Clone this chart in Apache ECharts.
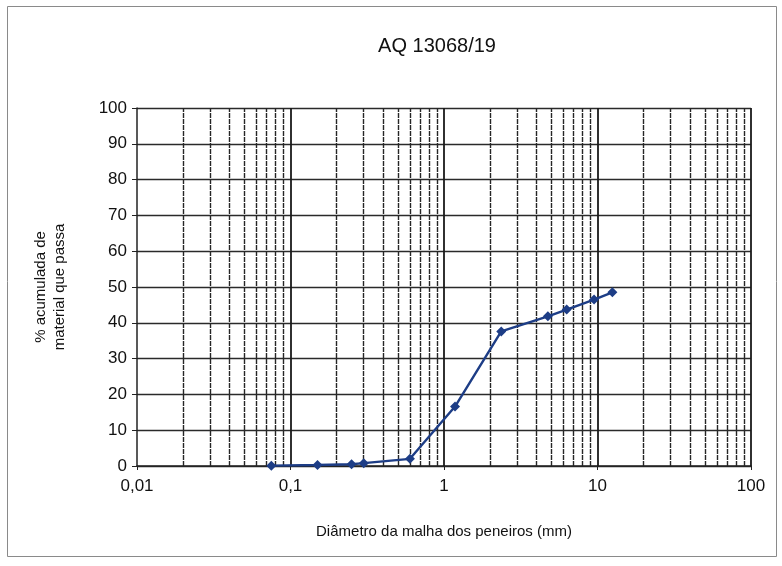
<!DOCTYPE html>
<html>
<head>
<meta charset="utf-8">
<script src="https://cdn.jsdelivr.net/npm/echarts@6/dist/echarts.min.js"></script>
<style>
    html, body { margin: 0; padding: 0; background: #fff; }
    #chart { width: 782px; height: 566px; }
</style>
</head>
<body>
<div id="chart"></div>
<script>
// abertura dos peneiros (mm) e % acumulada que passa
const sieves = [0.075, 0.15, 0.25, 0.3, 0.6, 1.18, 2.36, 4.75, 6.3, 9.5, 12.5]
const passing = [0.1, 0.3, 0.5, 0.8, 2.0, 16.6, 37.6, 41.8, 43.7, 46.5, 48.5]
// linhas de grelha secundárias (2..9 em cada década)
const minorGrid = [
    0.02, 0.03, 0.04, 0.05, 0.06, 0.07, 0.08, 0.09,
    0.2, 0.3, 0.4, 0.5, 0.6, 0.7, 0.8, 0.9,
    2, 3, 4, 5, 6, 7, 8, 9,
    20, 30, 40, 50, 60, 70, 80, 90
]
const majorGrid = [0.1, 1, 10, 100]

const font = 'Arial, "Liberation Sans", sans-serif'

let chart = echarts.init(document.getElementById('chart'))
chart.setOption({
    animation: false,
    textStyle: { fontFamily: font },
    title: {
        text: 'AQ 13068/19',
        left: 432,
        top: 31,
        textAlign: 'center',
        textStyle: { fontSize: 20, fontWeight: 'normal', color: '#111', fontFamily: font }
    },
    graphic: [{
        type: 'rect',
        shape: { x: 7.5, y: 6.5, width: 769, height: 550 },
        style: { fill: 'none', stroke: '#8a8a8a', lineWidth: 1 },
        silent: true
    }],
    grid: { left: 137, right: 31, top: 108, bottom: 100 },
    xAxis: {
        type: 'log',
        logBase: 10,
        min: 0.01,
        max: 100,
        name: 'Diâmetro da malha dos peneiros (mm)',
        nameLocation: 'middle',
        nameGap: 58,
        nameTextStyle: { fontSize: 15, color: '#111', fontFamily: font },
        axisLine: { show: true, onZero: false, lineStyle: { color: '#222', width: 1.5 } },
        axisTick: { show: true, length: 4, lineStyle: { color: '#222' } },
        axisLabel: {
            fontSize: 17, color: '#111', margin: 12, fontFamily: font,
            formatter: v => String(v).replace('.', ',')
        },
        splitLine: { show: false }
    },
    yAxis: {
        type: 'value',
        min: 0,
        max: 100,
        interval: 10,
        name: '% acumulada de\nmaterial que passa',
        nameLocation: 'middle',
        nameGap: 68,
        nameRotate: 90,
        nameTextStyle: { fontSize: 15, color: '#111', fontFamily: font, lineHeight: 19 },
        axisLine: { show: true, lineStyle: { color: '#222', width: 1.5 } },
        axisTick: { show: true, length: 5, lineStyle: { color: '#222' } },
        axisLabel: { fontSize: 17, color: '#111', margin: 10, fontFamily: font },
        splitLine: { show: true, lineStyle: { color: '#2a2a2a', width: 1.4 } }
    },
    series: [
        {
            type: 'line',
            name: 'grelha',
            data: [],
            silent: true,
            markLine: {
                silent: true,
                symbol: 'none',
                label: { show: false },
                animation: false,
                data: minorGrid.map(v => ({
                    xAxis: v,
                    lineStyle: { color: '#262626', width: 1.4, type: [5, 1] }
                })).concat(majorGrid.map(v => ({
                    xAxis: v,
                    lineStyle: { color: '#1a1a1a', width: 1.8, type: 'solid' }
                })))
            }
        },
        {
            type: 'line',
            name: 'AQ 13068/19',
            data: sieves.map((s, i) => [s, passing[i]]),
            symbol: 'diamond',
            symbolSize: 10,
            lineStyle: { color: '#1d3d86', width: 2.4 },
            itemStyle: { color: '#1d3d86' },
            z: 5
        }
    ]
})
</script>
</body>
</html>
